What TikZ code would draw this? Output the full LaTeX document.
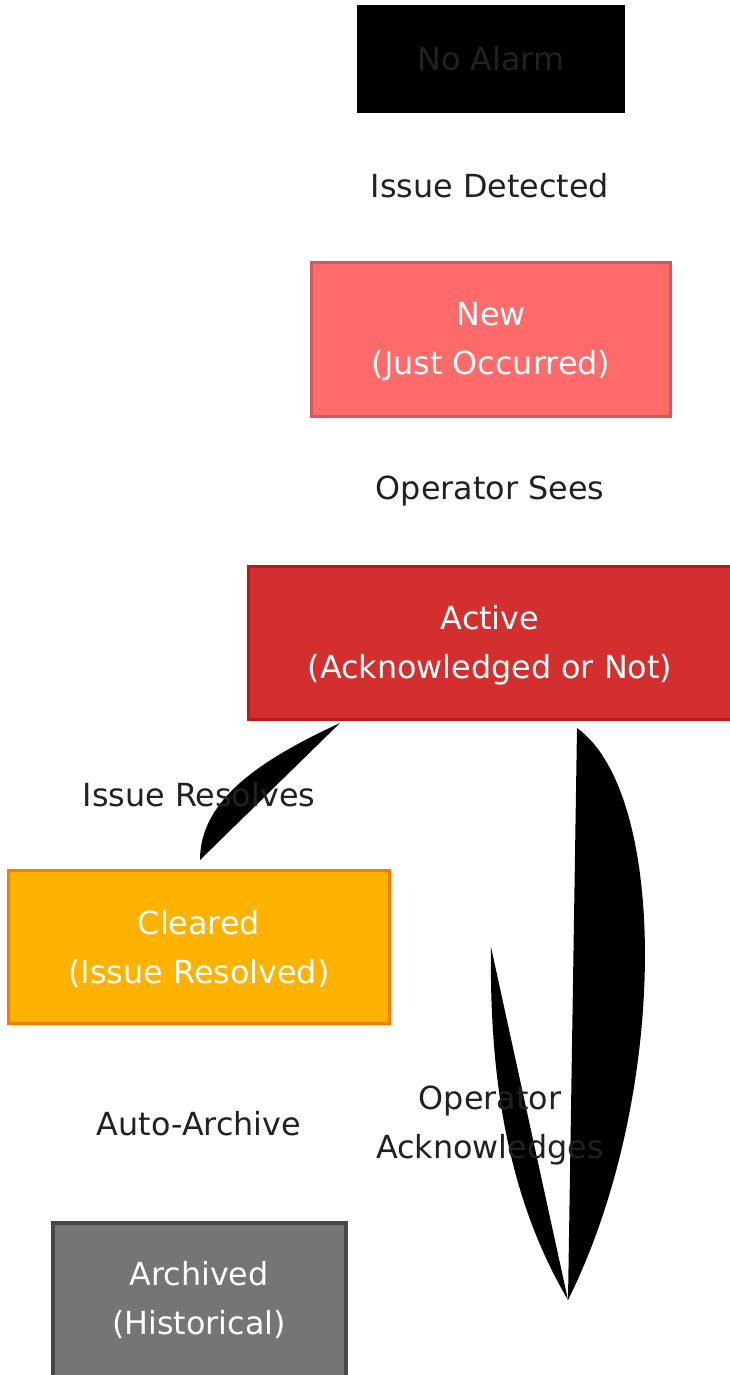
\documentclass[tikz,border=0pt]{standalone}
\usepackage{fontspec}
\setmainfont{DejaVu Sans}
\definecolor{lbl}{HTML}{212121}
\definecolor{newfill}{HTML}{FF6B6B}
\definecolor{newdraw}{HTML}{D05A5A}
\definecolor{actfill}{HTML}{D32F2F}
\definecolor{actdraw}{HTML}{B71C1C}
\definecolor{clrfill}{HTML}{FFB300}
\definecolor{clrdraw}{HTML}{F57C00}
\definecolor{arcfill}{HTML}{757575}
\definecolor{arcdraw}{HTML}{474747}
\newcommand{\topstrut}{\rule{0pt}{29pt}}
\newcommand{\botstrut}{\rule[-15.5pt]{0pt}{0pt}}
\tikzset{
  state/.style={rectangle, line width=3pt, align=center, text=white, inner sep=0pt},
  trans/.style={text=lbl, align=center},
  blob/.style={fill=black, draw=none}
}
\begin{document}
\begin{tikzpicture}[x=1pt, y=-1pt, font=\fontsize{31.8}{49}\selectfont]

\useasboundingbox (0,0) rectangle (730,1375);

\node[state, fill=black, draw=none, text=lbl, minimum width=268pt, minimum height=108pt] (noalarm) at (491,59) {No Alarm};
\node[state, fill=newfill, draw=newdraw, minimum width=359pt, minimum height=154pt] (new) at (491,339) {\topstrut New\\(Just Occurred)};
\node[state, fill=actfill, draw=actdraw, minimum width=484pt, minimum height=153pt] (active) at (490,643) {\topstrut Active\\(Acknowledged or Not)};
\node[state, fill=clrfill, draw=clrdraw, minimum width=381pt, minimum height=153pt] (cleared) at (199,947) {\topstrut Cleared\\(Issue Resolved)};
\node[state, fill=arcfill, draw=arcdraw, line width=4pt, minimum width=293pt, minimum height=160pt] (archived) at (199,1303) {\topstrut Archived\\(Historical)\botstrut};

\coordinate (resstart) at (340,723);
\coordinate (resend) at (200,860);
\coordinate (ackfrom) at (577,728);
\coordinate (ackstart) at (491,947);
\coordinate (acktip) at (568,1300);

% filled edges
\fill[blob] (resstart) .. controls (260,760) and (200,800) .. (resend) -- cycle;
\fill[blob] (ackfrom) .. controls (670,795) and (668,1100) .. (acktip) -- cycle;
\fill[blob] (ackstart) .. controls (489,1090) and (512,1205) .. (acktip) -- cycle;

\node[trans] (detected) at (490,186) {Issue Detected};
\node[trans] (sees) at (490,491) {Operator Sees};
\node[trans] (resolves) at (199,795) {Issue Resolves};
\node[trans] (autoarch) at (199,1124) {Auto-Archive};
\node[trans] (acknow) at (490,1125) {Operator\\Acknowledges};
\end{tikzpicture}
\end{document}
